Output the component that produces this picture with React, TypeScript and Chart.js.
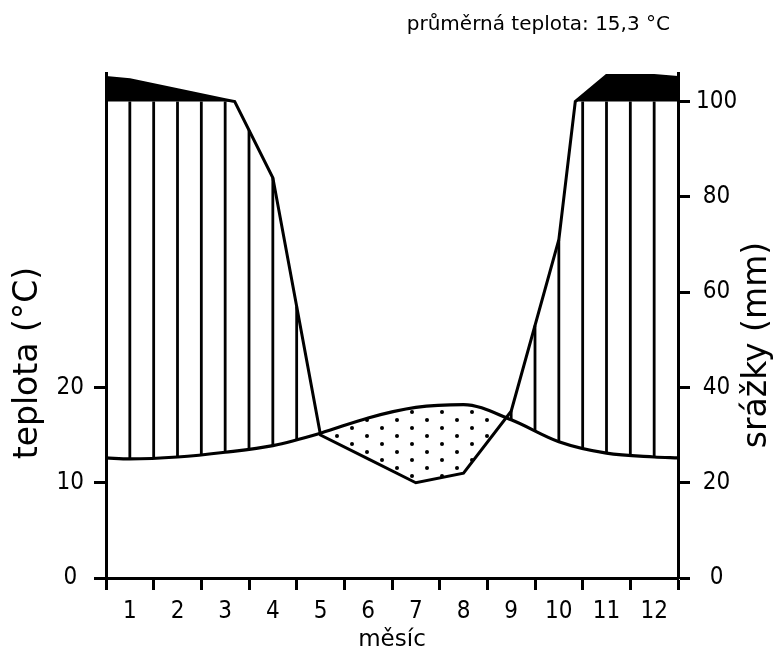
import React, { useEffect, useRef } from 'react';
import { Chart, registerables } from 'chart.js';

Chart.register(...registerables);

// ---- data ----
const monthLabels = ['1', '2', '3', '4', '5', '6', '7', '8', '9', '10', '11', '12'];
const temperatureC = [12.5, 12.7, 13.2, 13.9, 15.2, 16.8, 17.9, 18.2, 16.6, 14.3, 13.1, 12.7];
const precipitationMm = [146, 125, 104, 84, 30, 25, 20, 22, 35, 71, 155, 155];
const tempTicks = [0, 10, 20];
const precipTicks = [0, 20, 40, 60, 80, 100];
const titleText = 'průměrná teplota: 15,3 °C';
const tempAxisTitle = 'teplota (°C)';
const precipAxisTitle = 'srážky (mm)';
const monthAxisTitle = 'měsíc';

// Walter–Lieth convention: above 100 mm the precipitation scale is compressed 1:10
const PRECIP_BREAK = 100;
const COMPRESSION = 10;
const compress = (p: number) => (p <= PRECIP_BREAK ? p : PRECIP_BREAK + (p - PRECIP_BREAK) / COMPRESSION);

type Pt = { x: number; y: number | null };

// monthly values at month centres, closed at both edges with the Dec/Jan mean
function withEdges(values: number[]): { x: number; y: number }[] {
  const edge = (values[0] + values[values.length - 1]) / 2;
  const pts = [{ x: 0, y: edge }];
  values.forEach((v, i) => pts.push({ x: i + 0.5, y: v }));
  pts.push({ x: values.length, y: edge });
  return pts;
}

// precipitation in display units, with the 100 mm break point inserted where a segment crosses it
function precipDisplay(): { x: number; y: number }[] {
  const raw = withEdges(precipitationMm);
  const out: { x: number; y: number }[] = [];
  raw.forEach((a, i) => {
    if (i > 0) {
      const b = raw[i - 1];
      if ((b.y - PRECIP_BREAK) * (a.y - PRECIP_BREAK) < 0) {
        const t = (PRECIP_BREAK - b.y) / (a.y - b.y);
        out.push({ x: b.x + t * (a.x - b.x), y: PRECIP_BREAK });
      }
    }
    out.push({ x: a.x, y: compress(a.y) });
  });
  return out;
}

const FONT = '"DejaVu Sans", sans-serif';
const TICK_FONT = { family: '"DejaVu Sans Condensed", "DejaVu Sans", sans-serif', size: 24 };

const hatchPlugin = {
  id: 'humidHatch',
  afterDatasetsDraw(chart: any) {
    const { ctx, chartArea, scales } = chart;
    const tLine = chart.getDatasetMeta(0).dataset;
    const pLine = chart.getDatasetMeta(1).dataset;
    const y100 = scales.yP.getPixelForValue(PRECIP_BREAK);
    ctx.save();
    ctx.beginPath();
    ctx.rect(chartArea.left, chartArea.top, chartArea.right - chartArea.left, chartArea.bottom - chartArea.top);
    ctx.clip();
    ctx.strokeStyle = '#000';
    ctx.lineWidth = 2.8;
    const n = monthLabels.length * 2;
    for (let k = 1; k < n; k++) {
      const px = scales.x.getPixelForValue(k / 2);
      const tp = tLine.interpolate({ x: px }, 'x');
      const pp = pLine.interpolate({ x: px }, 'x');
      if (!tp || !pp) continue;
      const top = Math.max(pp.y, y100);
      if (top < tp.y - 0.5) {
        ctx.beginPath();
        ctx.moveTo(px, top);
        ctx.lineTo(px, tp.y);
        ctx.stroke();
      }
    }
    ctx.restore();
  },
};

const textPlugin = {
  id: 'diagramTexts',
  afterDraw(chart: any) {
    const { ctx, chartArea } = chart;
    ctx.save();
    ctx.fillStyle = '#000';
    ctx.font = `20px ${FONT}`;
    ctx.textAlign = 'right';
    ctx.textBaseline = 'alphabetic';
    ctx.fillText(titleText, chartArea.right - 8, 30);

    ctx.font = `33px ${FONT}`;
    ctx.textAlign = 'center';
    ctx.textBaseline = 'middle';
    ctx.save();
    ctx.translate(chartArea.left - 78, chartArea.bottom - 215);
    ctx.rotate(-Math.PI / 2);
    ctx.fillText(tempAxisTitle, 0, 0);
    ctx.restore();
    ctx.save();
    ctx.translate(chartArea.right + 79, chartArea.bottom - 233);
    ctx.rotate(-Math.PI / 2);
    ctx.fillText(precipAxisTitle, 0, 0);
    ctx.restore();
    ctx.restore();
  },
};

export default function App() {
  const ref = useRef<HTMLCanvasElement | null>(null);

  useEffect(() => {
    const canvas = ref.current;
    if (!canvas) return;

    const pc = document.createElement('canvas');
    pc.width = 30;
    pc.height = 16;
    const pctx = pc.getContext('2d')!;
    pctx.fillStyle = '#000';
    pctx.beginPath();
    pctx.arc(7, 4, 2, 0, Math.PI * 2);
    pctx.fill();
    pctx.beginPath();
    pctx.arc(22, 12, 2, 0, Math.PI * 2);
    pctx.fill();
    const dots = canvas.getContext('2d')!.createPattern(pc, 'repeat');

    const precipPts = precipDisplay();
    // only the part of the precipitation curve above the 100 mm break forms the black cap
    const capPts: Pt[] = precipPts.map((p) => ({ x: p.x, y: p.y >= PRECIP_BREAK ? p.y : null }));
    const tempPts = withEdges(temperatureC);

    const axisBorder = { display: true, color: '#000', width: 3 };

    const chart = new Chart(canvas, {
      type: 'line',
      data: {
        datasets: [
          {
            label: 'teplota',
            data: tempPts,
            yAxisID: 'yT',
            borderColor: '#000',
            borderWidth: 3.2,
            pointRadius: 0,
            cubicInterpolationMode: 'monotone',
            fill: false,
          },
          {
            label: 'srážky',
            data: precipPts,
            yAxisID: 'yP',
            borderColor: '#000',
            borderWidth: 3,
            pointRadius: 0,
            tension: 0,
            fill: { target: 0, above: 'rgba(0,0,0,0)', below: dots as any },
          },
          {
            label: 'srážky > 100',
            data: capPts,
            yAxisID: 'yP',
            borderWidth: 0,
            borderColor: 'rgba(0,0,0,0)',
            backgroundColor: '#000',
            pointRadius: 0,
            tension: 0,
            spanGaps: false,
            fill: { value: PRECIP_BREAK },
          },
        ] as any,
      },
      options: {
        animation: false,
        responsive: true,
        maintainAspectRatio: false,
        events: [],
        layout: { padding: { top: 73, left: 0, right: 0, bottom: 0 } },
        plugins: { legend: { display: false }, tooltip: { enabled: false }, title: { display: false } },
        scales: {
          x: {
            type: 'linear',
            min: 0,
            max: monthLabels.length,
            afterBuildTicks: (s: any) => {
              const t = [];
              for (let k = 0; k <= monthLabels.length * 2; k++) t.push({ value: k / 2 });
              s.ticks = t;
            },
            ticks: {
              autoSkip: false,
              maxRotation: 0,
              minRotation: 0,
              padding: 7,
              color: '#000',
              font: TICK_FONT,
              callback: (v: any) => (Number.isInteger(v) ? '' : monthLabels[Math.floor(v)]),
            },
            grid: {
              drawOnChartArea: false,
              drawTicks: true,
              tickLength: 12,
              tickWidth: 3,
              tickColor: (c: any) => (Number.isInteger(c.tick && c.tick.value) ? '#000' : 'rgba(0,0,0,0)'),
            },
            border: axisBorder,
            title: {
              display: true,
              text: monthAxisTitle,
              color: '#000',
              font: { family: FONT, size: 23 },
              padding: { top: 0, bottom: 0 },
            },
            afterFit: (s: any) => {
              s.height = 76;
            },
          },
          yT: {
            type: 'linear',
            position: 'left',
            min: 0,
            max: 53,
            afterBuildTicks: (s: any) => {
              s.ticks = tempTicks.map((v) => ({ value: v }));
            },
            ticks: { crossAlign: 'center', padding: 10, color: '#000', font: TICK_FONT },
            grid: { drawOnChartArea: false, tickLength: 12, tickWidth: 3, tickColor: '#000' },
            border: axisBorder,
            afterFit: (s: any) => {
              s.width = 106;
            },
          },
          yP: {
            type: 'linear',
            position: 'right',
            min: 0,
            max: 106,
            afterBuildTicks: (s: any) => {
              s.ticks = precipTicks.map((v) => ({ value: v }));
            },
            ticks: { crossAlign: 'center', padding: 6, color: '#000', font: TICK_FONT },
            grid: { drawOnChartArea: false, tickLength: 12, tickWidth: 3, tickColor: '#000' },
            border: axisBorder,
            afterFit: (s: any) => {
              s.width = 105;
            },
          },
        },
      } as any,
      plugins: [hatchPlugin, textPlugin],
    });

    return () => chart.destroy();
  }, []);

  return (
    <div style={{ position: 'absolute', left: 0, top: 0, width: 783, height: 654, background: '#fff' }}>
      <canvas ref={ref} />
    </div>
  );
}
